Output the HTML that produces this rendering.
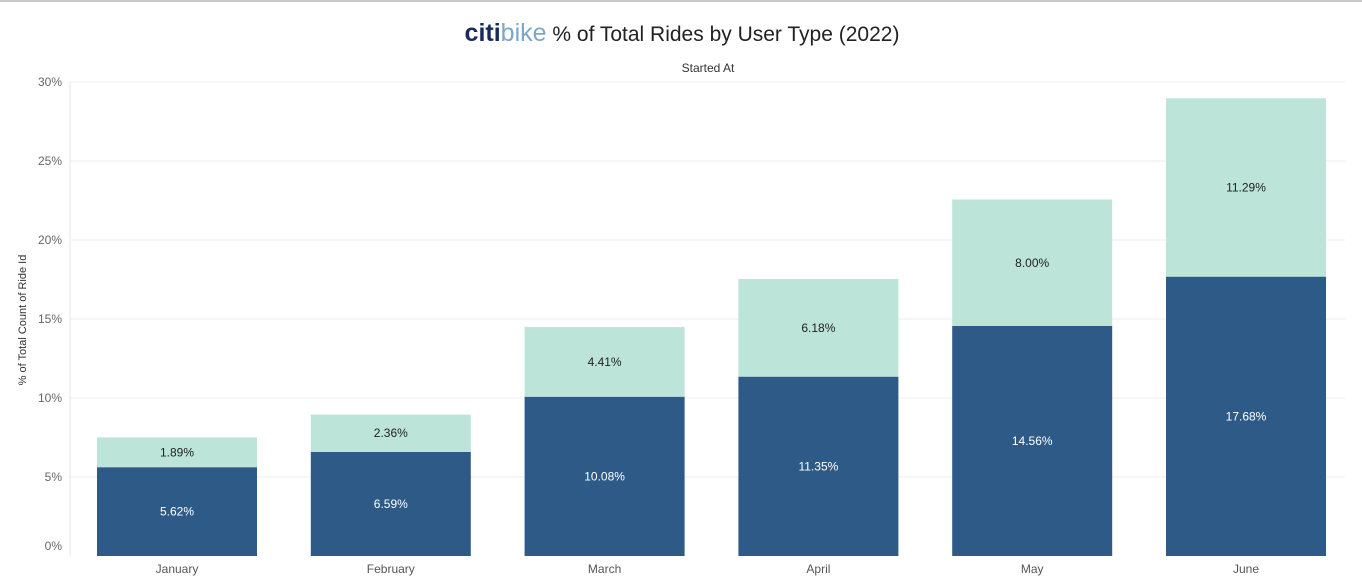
<!DOCTYPE html>
<html><head><meta charset="utf-8"><style>
body{margin:0;background:#fff;font-family:"Liberation Sans",sans-serif;}
#wrap{position:relative;width:1362px;height:577px;overflow:hidden;border-top:2px solid #c8c8c8;box-sizing:border-box;}
</style></head><body>
<div id="wrap">
<svg id="chart" width="1362" height="575" style="position:absolute;left:0;top:0">
<g transform="translate(0,-4)">
<text x="682" y="43" text-anchor="middle" font-size="21" fill="#222"><tspan font-weight="bold" font-size="25" fill="#1b2a5c">citi</tspan><tspan font-size="25" fill="#7ea6c9">bike</tspan> % of Total Rides by User Type (2022)</text>
<text x="708" y="74" text-anchor="middle" font-size="12" fill="#333">Started At</text>
<text transform="translate(26,322) rotate(-90)" text-anchor="middle" font-size="11" fill="#333">% of Total Count of Ride Id</text>
<line x1="70" y1="84" x2="70" y2="558" stroke="#e6e6e6"/>
<g id="grid"></g><g id="bars"></g>
</g>
</svg>
</div>
<script>
const categories=["January","February","March","April","May","June"];
const member=[5.62,6.59,10.08,11.35,14.56,17.68];
const casual=[1.89,2.36,4.41,6.18,8.00,11.29];
const ticks=[0,5,10,15,20,25,30];
const ns="http://www.w3.org/2000/svg";
const y0=558, ppu=15.8;
function y(v){return y0-v*ppu;}
function xc(i){return 177+i*213.8;}
const bw=160;
const grid=document.getElementById('grid'), bars=document.getElementById('bars');
function mk(tag,attrs,parent){const e=document.createElementNS(ns,tag);for(const k in attrs)e.setAttribute(k,attrs[k]);parent.appendChild(e);return e;}
ticks.forEach(t=>{
  if(t>0){const l=mk('line',{x1:70,x2:1345,y1:y(t),y2:y(t),stroke:'#eeeeee'},grid);
  
  }
  const tx=mk('text',{x:62,y:(t===0?y(t)-6:y(t)+4),'text-anchor':'end','font-size':12,fill:'#666'},grid);
  tx.textContent=t+'%';
  
  
});
categories.forEach((c,i)=>{
  const x=xc(i)-bw/2;
  const m=mk('rect',{x:x,y:y(member[i]),width:bw,height:member[i]*ppu,fill:'#2e5a87'},bars);
  
  
  const tot=member[i]+casual[i];
  const k=mk('rect',{x:x,y:y(tot),width:bw,height:casual[i]*ppu,fill:'#bce4d8'},bars);
  
  
  const ml=mk('text',{x:xc(i),y:y(member[i]/2)+4,'text-anchor':'middle','font-size':12,fill:'#fff'},bars);
  ml.textContent=member[i].toFixed(2)+'%';
  
  
  const cl=mk('text',{x:xc(i),y:y(member[i]+casual[i]/2)+4,'text-anchor':'middle','font-size':12,fill:'#222'},bars);
  cl.textContent=casual[i].toFixed(2)+'%';
  
  
  const xl=mk('text',{x:xc(i),y:575,'text-anchor':'middle','font-size':12,fill:'#555'},bars);
  xl.textContent=c;
  
  
});
</script>
</body></html>
